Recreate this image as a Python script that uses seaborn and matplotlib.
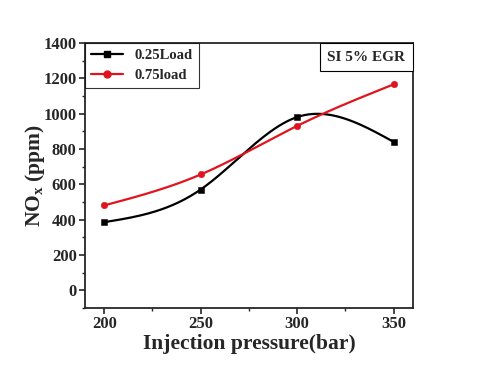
import numpy as np
import pandas as pd
import matplotlib
matplotlib.use('Agg')
import matplotlib.pyplot as plt
from matplotlib.ticker import MultipleLocator
from matplotlib.offsetbox import AnchoredText
import seaborn as sns

sns.set_style('ticks')
plt.rcParams['font.family'] = ['Liberation Serif', 'DejaVu Serif']
plt.rcParams['font.weight'] = 'bold'
plt.rcParams['mathtext.fontset'] = 'custom'
plt.rcParams['mathtext.rm'] = 'Liberation Serif:bold'
plt.rcParams['mathtext.it'] = 'Liberation Serif:bold'

pressure = [200, 250, 300, 350]
nox_025 = [385, 570, 980, 840]
nox_075 = [480, 655, 930, 1165]
labels = ['0.25Load', '0.75load']
colors = ['black', '#e0141e']
markers = ['s', 'o']


def spline(x, y, n=200):
    # natural cubic spline, used only to draw the smooth line through the points
    x = np.asarray(x, float)
    y = np.asarray(y, float)
    k = len(x)
    h = np.diff(x)
    A = np.zeros((k, k))
    b = np.zeros(k)
    A[0, 0] = A[-1, -1] = 1
    for i in range(1, k - 1):
        A[i, i - 1] = h[i - 1]
        A[i, i] = 2 * (h[i - 1] + h[i])
        A[i, i + 1] = h[i]
        b[i] = 6 * ((y[i + 1] - y[i]) / h[i] - (y[i] - y[i - 1]) / h[i - 1])
    M = np.linalg.solve(A, b)
    xs = np.linspace(x[0], x[-1], n)
    idx = np.clip(np.searchsorted(x, xs) - 1, 0, k - 2)
    x0, x1 = x[idx], x[idx + 1]
    hh = x1 - x0
    ys = (M[idx] * (x1 - xs) ** 3 / (6 * hh) + M[idx + 1] * (xs - x0) ** 3 / (6 * hh)
          + (y[idx] / hh - M[idx] * hh / 6) * (x1 - xs)
          + (y[idx + 1] / hh - M[idx + 1] * hh / 6) * (xs - x0))
    return xs, ys


fig, ax = plt.subplots(figsize=(4.8, 3.7), dpi=100)
fig.subplots_adjust(left=0.177, right=0.86, top=0.884, bottom=0.168)

for vals, lab, c, m in zip([nox_025, nox_075], labels, colors, markers):
    xs, ys = spline(pressure, vals)
    sns.lineplot(x=xs, y=ys, color=c, lw=1.6, ax=ax)
    df = pd.DataFrame({'p': pressure, 'v': vals})
    sns.scatterplot(data=df, x='p', y='v', color=c, marker=m, s=22, edgecolor=c, ax=ax, zorder=3)
    ax.plot([], [], color=c, marker=m, ms=5, lw=1.6, label=lab)

ax.set_xlim(190, 360)
ax.set_ylim(-100, 1400)
ax.set_xticks(pressure)
ax.set_yticks(range(0, 1401, 200))
ax.xaxis.set_minor_locator(MultipleLocator(25))
ax.yaxis.set_minor_locator(MultipleLocator(100))
ax.tick_params(which='major', direction='out', length=4, width=1.2, labelsize=12, pad=2)
ax.tick_params(which='minor', direction='out', length=2, width=1)
for s in ax.spines.values():
    s.set_linewidth(1.3)
    s.set_visible(True)
for t in ax.get_xticklabels() + ax.get_yticklabels():
    t.set_fontweight('bold')

ax.set_xlabel('Injection pressure(bar)', fontsize=15.5, fontweight='bold', labelpad=1)
ax.set_ylabel('NO$_{x}$ (ppm)', fontsize=15.5, fontweight='bold')
ax.yaxis.set_label_coords(-0.115, 0.5)

leg = ax.legend(loc='upper left', frameon=True, fancybox=False,
                edgecolor='black', borderaxespad=0, handlelength=2.2,
                prop={'weight': 'bold', 'size': 10.5})
leg.get_frame().set_linewidth(0.8)

at = AnchoredText('SI 5% EGR', loc='upper right', borderpad=0, pad=0.5,
                  prop={'size': 11, 'weight': 'bold'}, frameon=True)
at.patch.set_boxstyle('square,pad=0')
at.patch.set_linewidth(0.8)
ax.add_artist(at)

fig.savefig('out.png', dpi=100)
